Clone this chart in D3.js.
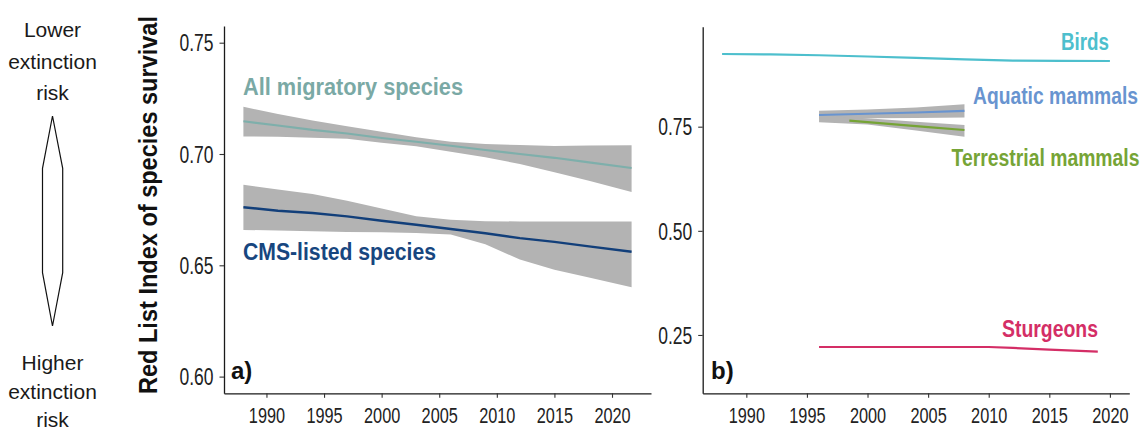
<!DOCTYPE html>
<html><head><meta charset="utf-8">
<script src="https://cdn.jsdelivr.net/npm/d3@7"></script>
<style>
body{margin:0;background:#fff;}
svg{display:block;font-family:"Liberation Sans",Arial,sans-serif;}
</style></head>
<body><svg id="c" width="1142" height="428"></svg>
<script>
// ---------- data ----------
const yearsA = [1988, 1991, 1994, 1997, 2000, 2003, 2006, 2009, 2012, 2015, 2018, 2021.7];
const allMig   = [0.7147, 0.7128, 0.7108, 0.7092, 0.7072, 0.7055, 0.7037, 0.7018, 0.7000, 0.6983, 0.6962, 0.6937];
const allMigHi = [0.7212, 0.7180, 0.7150, 0.7125, 0.7100, 0.7075, 0.7055, 0.7045, 0.7040, 0.7036, 0.7038, 0.7039];
const allMigLo = [0.7079, 0.7077, 0.7073, 0.7068, 0.7050, 0.7035, 0.7010, 0.6985, 0.6955, 0.6918, 0.6880, 0.6829];
const cms   = [0.6761, 0.6745, 0.6735, 0.6720, 0.6700, 0.6682, 0.6663, 0.6644, 0.6622, 0.6605, 0.6585, 0.6561];
const cmsHi = [0.6862, 0.6840, 0.6820, 0.6790, 0.6755, 0.6720, 0.6705, 0.6698, 0.6697, 0.6697, 0.6697, 0.6697];
const cmsLo = [0.6659, 0.6656, 0.6653, 0.6650, 0.6648, 0.6645, 0.6638, 0.6595, 0.6526, 0.6480, 0.6445, 0.6401];

const yearsBirds = [1988, 1992, 1996, 2000, 2004, 2008, 2012, 2016, 2020];
const birds = [0.9245, 0.9235, 0.9215, 0.9185, 0.9150, 0.9115, 0.9085, 0.9080, 0.9077];

const yearsMammals = [1996, 2000, 2004, 2008];
const aquatic   = [0.778, 0.781, 0.784, 0.788];
const aquaticHi = [0.788, 0.791, 0.796, 0.804];
const aquaticLo = [0.768, 0.770, 0.771, 0.772];
const yearsTerrLine = [1998.5, 2002, 2005, 2008];
const terrestrial = [0.7644, 0.756, 0.749, 0.742];
const terrestrialHi = [0.776, 0.770, 0.762, 0.754];
const terrestrialLo = [0.7605, 0.755, 0.741, 0.726];

const yearsSturgeon = [1996, 2000, 2004, 2008, 2010, 2012, 2015, 2019];
const sturgeons = [0.2212, 0.2212, 0.2212, 0.2212, 0.2212, 0.2190, 0.2148, 0.2099];

const xTicks = [1990, 1995, 2000, 2005, 2010, 2015, 2020];
const yTicksA = [0.60, 0.65, 0.70, 0.75];
const yTicksB = [0.25, 0.50, 0.75];

// ---------- setup ----------
const svg = d3.select("#c");
const FONT = '"Liberation Sans",Arial,sans-serif';
function squeeze(sel, k){
  sel.each(function(){ const L=this.getComputedTextLength(); d3.select(this).attr("textLength", L*k).attr("lengthAdjust","spacingAndGlyphs"); });
}
function fitTo(sel, w){
  sel.attr("textLength", w).attr("lengthAdjust","spacingAndGlyphs");
}
const zip = (xs, ys) => xs.map((x,i)=>({x, y: ys[i]}));
const zip3 = (xs, lo, hi) => xs.map((x,i)=>({x, lo: lo[i], hi: hi[i]}));

// ---------- left annotation ----------
const ann = svg.append("g").attr("font-size", 21).attr("fill","#1a1a1a").attr("text-anchor","middle");
[["Lower",37],["extinction",68.5],["risk",100],["Higher",369.5],["extinction",398.5],["risk",427]].forEach(([t,y])=>{
  ann.append("text").attr("x",52.5).attr("y",y).text(t);
});
svg.append("polygon")
  .attr("points",[[52.5,116],[62.7,168.3],[62.7,272.7],[52.5,326],[42.5,272.7],[42.5,168.3]].map(p=>p.join(",")).join(" "))
  .attr("fill","none").attr("stroke","#111").attr("stroke-width",1.2);

// y title
const yt = svg.append("text").attr("transform","translate(157,205) rotate(-90)")
  .attr("text-anchor","middle").attr("font-size",25).attr("font-weight","bold").attr("fill","#111")
  .text("Red List Index of species survival");
fitTo(yt, 378);

// ---------- panel builder ----------
function panel(opts){
  const g = svg.append("g");
  const x = d3.scaleLinear().domain(opts.xDomain).range(opts.xRange);
  const y = d3.scaleLinear().domain(opts.yDomain).range(opts.yRange);
  const ax = g.append("g").attr("transform",`translate(0,${opts.yRange[0]})`)
    .call(d3.axisBottom(x).tickValues(xTicks).tickFormat(d3.format("d")).tickSizeOuter(0).tickSizeInner(4.5).tickPadding(9.5));
  const ay = g.append("g").attr("transform",`translate(${opts.xRange[0]},0)`)
    .call(d3.axisLeft(y).tickValues(opts.yTicks).tickFormat(d3.format(".2f")).tickSizeOuter(0).tickSizeInner(4.5).tickPadding(6));
  [ax, ay].forEach(a=>{
    a.select(".domain").attr("stroke","#1a1a1a").attr("stroke-width",1.3);
    a.selectAll(".tick line").attr("stroke","#333").attr("stroke-width",1.1);
    a.selectAll(".tick text").attr("font-family",FONT).attr("fill","#222");
  });
  ax.selectAll(".tick text").attr("font-size",22);
  ay.selectAll(".tick text").attr("font-size",23).attr("dy","0.36em");
  squeeze(ax.selectAll(".tick text"), 0.74);
  squeeze(ay.selectAll(".tick text"), 0.76);
  return {g, x, y};
}

const BAND = "#b3b3b3";
function band(p, xs, lo, hi){
  p.g.append("path").datum(zip3(xs, lo, hi))
    .attr("d", d3.area().x(d=>p.x(d.x)).y0(d=>p.y(d.lo)).y1(d=>p.y(d.hi)))
    .attr("fill", BAND);
}
function line(p, xs, ys, color, w){
  p.g.append("path").datum(zip(xs, ys))
    .attr("d", d3.line().x(d=>p.x(d.x)).y(d=>p.y(d.y)))
    .attr("fill","none").attr("stroke",color).attr("stroke-width",w||2.2).attr("stroke-linejoin","round");
}
function label(p, t, xPix, yPix, color, width, anchor, size){
  const el = p.g.append("text").attr("x",xPix).attr("y",yPix).attr("fill",color)
    .attr("font-size", size||23).attr("font-weight","bold").attr("text-anchor",anchor||"start").text(t);
  if (width) fitTo(el, width);
}

// ---------- panel a ----------
const pa = panel({xDomain:[1986.315, 2023.385], xRange:[224,651], yDomain:[0.5925,0.7575], yRange:[393.3,26], yTicks:yTicksA});
band(pa, yearsA, allMigLo, allMigHi);
band(pa, yearsA, cmsLo, cmsHi);
line(pa, yearsA, allMig, "#7eafab");
line(pa, yearsA, cms, "#123f7a", 2.4);
label(pa, "All migratory species", 243, 95, "#7aa9a5", 220);
label(pa, "CMS-listed species", 243, 259.5, "#17467f", 193);
label(pa, "a)", 231, 379, "#111", null, "start", 24);

// ---------- panel b ----------
const pb = panel({xDomain:[1986.4, 2021.6], xRange:[702.7,1129.3], yDomain:[0.11,0.99], yRange:[393.3,26.7], yTicks:yTicksB});
band(pb, yearsMammals, aquaticLo, aquaticHi);
band(pb, yearsMammals, terrestrialLo, terrestrialHi);
line(pb, yearsBirds, birds, "#4dbfcd");
line(pb, yearsMammals, aquatic, "#6894d0");
line(pb, yearsTerrLine, terrestrial, "#76a436");
line(pb, yearsSturgeon, sturgeons, "#d42e66");
label(pb, "Birds", 1109, 50, "#4dbfcd", 48, "end");
label(pb, "Aquatic mammals", 1138, 104, "#6894d0", 165, "end");
label(pb, "Terrestrial mammals", 1139.5, 165.5, "#76a436", 188, "end");
label(pb, "Sturgeons", 1098, 337, "#d42e66", 96, "end");
label(pb, "b)", 711, 378.5, "#111", null, "start", 24);
</script></body></html>
